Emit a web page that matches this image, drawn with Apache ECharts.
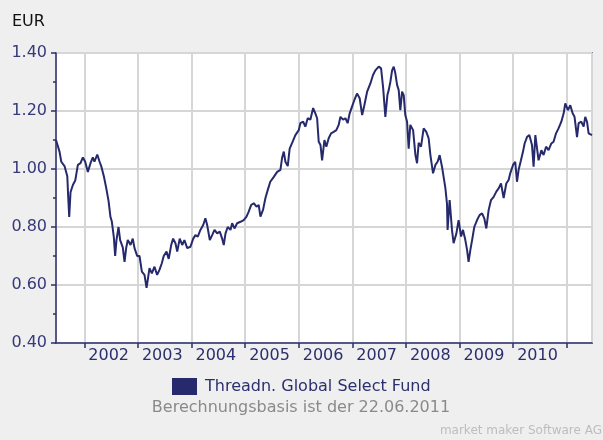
<!DOCTYPE html>
<html><head><meta charset="utf-8">
<script src="https://cdn.jsdelivr.net/npm/echarts@6/dist/echarts.min.js"></script>
<style>html,body{margin:0;padding:0;background:#efefef}#c{width:603px;height:440px}</style>
</head><body><div id="c"></div><script>
const seriesName = 'Threadn. Global Select Fund';
const dates = [
'2001-06-22','2001-07-16','2001-07-28','2001-08-19','2001-09-07','2001-09-13','2001-09-20','2001-09-29','2001-10-15','2001-10-31',
'2001-11-18','2001-12-06','2001-12-22','2002-01-07','2002-01-25','2002-02-12','2002-02-28','2002-03-11','2002-03-30','2002-04-15',
'2002-04-26','2002-05-14','2002-05-30','2002-06-15','2002-06-28','2002-07-07','2002-07-21','2002-07-30','2002-08-08','2002-08-22',
'2002-09-02','2002-09-20','2002-10-02','2002-10-13','2002-10-24','2002-11-12','2002-11-27','2002-12-09','2002-12-27','2003-01-12',
'2003-01-28','2003-02-15','2003-03-01','2003-03-21','2003-04-06','2003-04-24','2003-05-12','2003-05-28','2003-06-13','2003-06-26',
'2003-07-15','2003-07-30','2003-08-16','2003-08-29','2003-09-14','2003-09-26','2003-10-13','2003-10-30','2003-11-14','2003-12-03',
'2003-12-25','2004-01-13','2004-01-28','2004-02-13','2004-03-02','2004-03-21','2004-04-05','2004-04-17','2004-05-05','2004-05-21',
'2004-06-06','2004-06-24','2004-07-12','2004-07-28','2004-08-08','2004-08-20','2004-09-04','2004-09-23','2004-10-04','2004-10-20',
'2004-11-07','2004-11-30','2004-12-22','2005-01-10','2005-01-25','2005-02-11','2005-02-28','2005-03-19','2005-04-03','2005-04-15',
'2005-05-03','2005-05-19','2005-06-04','2005-06-21','2005-07-15','2005-08-07','2005-08-29','2005-09-10','2005-09-21','2005-10-02',
'2005-10-18','2005-10-31','2005-11-17','2005-12-09','2006-01-01','2006-01-12','2006-01-31','2006-02-15','2006-03-03','2006-03-21',
'2006-04-09','2006-04-24','2006-05-06','2006-05-17','2006-05-29','2006-06-09','2006-06-25','2006-07-08','2006-07-24','2006-08-09',
'2006-08-27','2006-09-14','2006-09-30','2006-10-12','2006-10-30','2006-11-15','2006-11-30','2006-12-14','2006-12-30','2007-01-15',
'2007-02-02','2007-02-20','2007-03-09','2007-03-24','2007-04-12','2007-05-04','2007-05-22','2007-06-07','2007-06-30','2007-07-16',
'2007-07-30','2007-08-14','2007-08-28','2007-09-06','2007-09-17','2007-09-29','2007-10-10','2007-10-21','2007-11-02','2007-11-13',
'2007-11-24','2007-12-06','2007-12-17','2007-12-28','2008-01-09','2008-01-20','2008-01-31','2008-02-19','2008-03-06','2008-03-17',
'2008-03-28','2008-04-13','2008-05-01','2008-05-19','2008-06-04','2008-06-16','2008-07-04','2008-07-20','2008-08-04','2008-08-18',
'2008-09-03','2008-09-14','2008-09-26','2008-10-07','2008-10-11','2008-10-25','2008-11-10','2008-11-21','2008-12-10','2008-12-25',
'2009-01-11','2009-01-24','2009-02-09','2009-02-21','2009-03-03','2009-03-15','2009-03-27','2009-04-11','2009-04-30','2009-05-17',
'2009-06-03','2009-06-18','2009-07-02','2009-07-18','2009-08-03','2009-08-21','2009-09-08','2009-09-24','2009-10-10','2009-10-28',
'2009-11-15','2009-12-01','2009-12-12','2009-12-31','2010-01-15','2010-01-27','2010-02-07','2010-02-23','2010-03-09','2010-03-20',
'2010-04-05','2010-04-21','2010-05-09','2010-05-20','2010-06-01','2010-06-12','2010-06-23','2010-07-12','2010-07-27','2010-08-13',
'2010-08-30','2010-09-18','2010-10-03','2010-10-20','2010-11-06','2010-11-25','2010-12-11','2010-12-22','2011-01-09','2011-01-25',
'2011-02-10','2011-02-23','2011-03-12','2011-03-23','2011-04-10','2011-04-26','2011-05-07','2011-05-19','2011-05-30','2011-06-11',
'2011-06-22'
];
const values = [
1.10,1.06,1.025,1.01,0.975,0.905,0.835,0.92,0.945,0.96,
1.014,1.02,1.04,1.025,0.99,1.02,1.04,1.025,1.05,1.025,
1.01,0.975,0.935,0.89,0.835,0.82,0.765,0.70,0.755,0.80,
0.755,0.73,0.68,0.727,0.755,0.738,0.76,0.727,0.70,0.70,
0.646,0.635,0.59,0.658,0.64,0.663,0.635,0.652,0.675,0.70,
0.715,0.69,0.738,0.76,0.744,0.715,0.76,0.738,0.755,0.727,
0.732,0.76,0.772,0.767,0.79,0.807,0.83,0.807,0.755,0.772,
0.79,0.778,0.784,0.76,0.738,0.778,0.80,0.79,0.813,0.795,
0.813,0.818,0.824,0.836,0.853,0.876,0.882,0.87,0.876,0.836,
0.86,0.90,0.928,0.956,0.973,0.99,0.997,1.04,1.06,1.025,
1.01,1.07,1.09,1.117,1.134,1.158,1.163,1.146,1.175,1.17,
1.21,1.192,1.175,1.094,1.083,1.03,1.10,1.077,1.106,1.123,
1.128,1.134,1.152,1.18,1.17,1.175,1.158,1.192,1.215,1.238,
1.26,1.244,1.186,1.22,1.267,1.295,1.324,1.34,1.353,1.347,
1.28,1.18,1.255,1.272,1.30,1.34,1.353,1.33,1.29,1.272,
1.203,1.267,1.255,1.186,1.163,1.07,1.152,1.134,1.048,1.02,
1.09,1.077,1.14,1.128,1.106,1.048,0.985,1.014,1.025,1.048,
1.008,0.973,0.934,0.88,0.79,0.893,0.79,0.744,0.778,0.824,
0.767,0.79,0.755,0.72,0.68,0.72,0.755,0.80,0.824,0.841,
0.847,0.83,0.795,0.859,0.893,0.904,0.922,0.933,0.95,0.90,
0.95,0.962,0.985,1.014,1.025,0.956,0.997,1.03,1.06,1.088,
1.11,1.117,1.083,1.008,1.117,1.123,1.03,1.065,1.048,1.077,
1.065,1.088,1.094,1.123,1.14,1.163,1.192,1.226,1.203,1.22,
1.192,1.18,1.11,1.158,1.163,1.146,1.18,1.163,1.123,1.128,
1.117
];
const yMin = 0.40, yMax = 1.40, yStep = 0.20;
const xStart = '2001-06-22', xEnd = '2011-06-22';
const unitLabel = 'EUR';
const footnote = 'Berechnungsbasis ist der 22.06.2011';
const credit = 'market maker Software AG';

const navy = '#2b2f6e';
const font = 'DejaVu Sans';
const chart = echarts.init(document.getElementById('c'), null, {renderer:'canvas'});
const YEAR = 365.25*86400000;
chart.setOption({
  animation:false,
  backgroundColor:'#efefef',
  textStyle:{fontFamily:font},
  grid:{left:56,right:11,top:53,bottom:97,show:true,backgroundColor:'#ffffff',borderColor:navy,borderWidth:1.5},
  graphic:[
    {type:'text',left:12,top:14,style:{text:unitLabel,font:'16px "DejaVu Sans"',fill:'#111'}},
    {type:'text',x:301,y:408,style:{text:footnote,font:'16px "DejaVu Sans"',fill:'#8a8a8a',align:'center',verticalAlign:'middle'}},
    {type:'text',x:602,y:431,style:{text:credit,font:'12px "DejaVu Sans"',fill:'#bdbdbd',align:'right',verticalAlign:'middle'}}
  ],
  legend:{left:167,top:373,icon:'rect',itemWidth:25,itemHeight:17,textStyle:{fontSize:16,color:navy,fontFamily:font,padding:[0,0,0,3]},data:[seriesName]},
  xAxis:{type:'time',min:xStart,max:xEnd,splitNumber:10,minInterval:YEAR*0.9,maxInterval:YEAR*1.1,
    axisLine:{lineStyle:{color:navy,width:1.5}},
    axisTick:{show:true,length:5,lineStyle:{color:navy,width:1.5}},
    splitLine:{show:true,lineStyle:{color:'#d6d6d6',width:2}},
    axisLabel:{showMinLabel:false,showMaxLabel:false,margin:5,fontSize:16,color:navy,fontFamily:font,align:'left',padding:[0,0,0,4],
      formatter:function(v){const y=new Date(v).getFullYear();return y>=2011?'':String(y);}}
  },
  yAxis:{type:'value',min:yMin,max:yMax,interval:yStep,
    axisLine:{show:true,lineStyle:{color:navy,width:1.5}},
    axisTick:{show:true,length:5,lineStyle:{color:navy,width:1.5}},
    minorTick:{show:true,splitNumber:2,length:3,lineStyle:{color:navy,width:1.5}},
    splitLine:{show:true,lineStyle:{color:'#d6d6d6',width:2}},
    axisLabel:{margin:9,fontSize:16,color:'#363a78',fontFamily:font,formatter:function(v){return v.toFixed(2);}}
  },
  series:[{name:seriesName,type:'line',showSymbol:false,data:dates.map((d,i)=>[d,values[i]]),
    lineStyle:{color:'#262a6c',width:2},itemStyle:{color:'#262a6c'}}]
});
</script></body></html>
